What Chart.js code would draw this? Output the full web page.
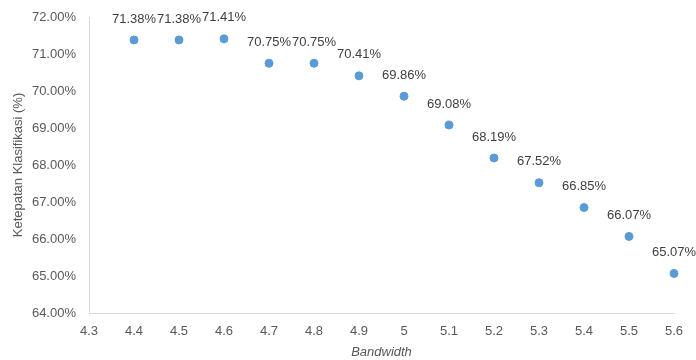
<!DOCTYPE html>
<html>
<head>
<meta charset="utf-8">
<script src="https://cdn.jsdelivr.net/npm/chart.js@4"></script>
<style>
  html, body { margin: 0; padding: 0; background: #fff; }
  #wrap { width: 696px; height: 360px; }
</style>
</head>
<body>
<div id="wrap"><canvas id="c" width="696" height="360"></canvas></div>
<script>
// Bandwidth values and the classification accuracy (%) at each
const bandwidths = [4.4, 4.5, 4.6, 4.7, 4.8, 4.9, 5.0, 5.1, 5.2, 5.3, 5.4, 5.5, 5.6];
const accuracy = [71.38, 71.38, 71.41, 70.75, 70.75, 70.41, 69.86, 69.08, 68.19, 67.52, 66.85, 66.07, 65.07];
const xRange = [4.3, 5.6];
const yRange = [64, 72];

const FONT = '"Liberation Sans", Arial, sans-serif';

// Writes each point's value just above its marker
const valueLabels = {
  id: 'valueLabels',
  afterDatasetsDraw(chart) {
    const ctx = chart.ctx;
    const meta = chart.getDatasetMeta(0);
    ctx.save();
    ctx.font = '13px ' + FONT;
    ctx.fillStyle = '#404040';
    ctx.textAlign = 'center';
    ctx.textBaseline = 'middle';
    meta.data.forEach((pt, i) => {
      ctx.fillText(accuracy[i].toFixed(2) + '%', pt.x, pt.y - 21);
    });
    ctx.restore();
  }
};

new Chart(document.getElementById('c'), {
  type: 'scatter',
  data: {
    datasets: [{
      data: bandwidths.map((b, i) => ({ x: b, y: accuracy[i] })),
      backgroundColor: '#5B9BD5',
      borderColor: '#5B9BD5',
      pointRadius: 4,
      pointHoverRadius: 4,
      clip: false
    }]
  },
  options: {
    responsive: false,
    animation: false,
    layout: { padding: { left: 0, right: 22, top: 17, bottom: 0 } },
    plugins: { legend: { display: false }, tooltip: { enabled: false } },
    scales: {
      x: {
        type: 'linear',
        min: xRange[0],
        max: xRange[1],
        afterFit(s) { s.height = 47; s.paddingLeft = 0; s.paddingRight = 0; },
        grid: { display: false, drawTicks: false },
        border: { display: true, color: '#d9d9d9' },
        ticks: {
          stepSize: 0.1,
          padding: 11,
          color: '#595959',
          font: { family: FONT, size: 13 },
          callback: v => String(parseFloat(v.toFixed(1)))
        },
        title: {
          display: true,
          text: 'Bandwidth',
          color: '#595959',
          font: { family: FONT, size: 13, style: 'italic' },
          padding: { top: 1, bottom: 0 }
        }
      },
      y: {
        min: yRange[0],
        max: yRange[1],
        afterFit(s) { s.width = 89; s.paddingTop = 0; s.paddingBottom = 0; },
        grid: { display: false, drawTicks: false },
        border: { display: true, color: '#d9d9d9' },
        ticks: {
          stepSize: 1,
          padding: 13,
          color: '#595959',
          font: { family: FONT, size: 13 },
          callback: v => v.toFixed(2) + '%'
        },
        title: {
          display: true,
          text: 'Ketepatan Klasifikasi (%)',
          color: '#595959',
          font: { family: FONT, size: 13 },
          padding: { top: 11, bottom: 0 }
        }
      }
    }
  },
  plugins: [valueLabels]
});
</script>
</body>
</html>
